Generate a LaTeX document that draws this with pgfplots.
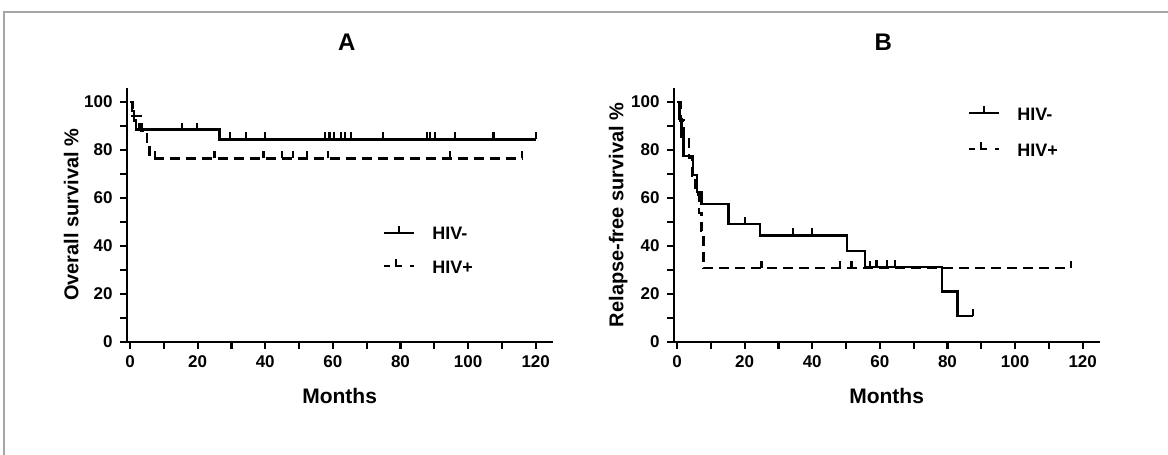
\documentclass[border=0pt]{standalone}
\usepackage{fontspec}
\setmainfont{Liberation Sans}
\usepackage{pgfplots}
\pgfplotsset{compat=1.18}

% censoring tick: short stroke pointing up
\pgfdeclareplotmark{cens}{%
  \pgfpathmoveto{\pgfpointorigin}%
  \pgfpathlineto{\pgfpoint{0pt}{\pgfplotmarksize}}%
  \pgfusepathqstroke}

\pgfplotsset{
  km/.style={
    scale only axis, width=213pt, height=127.2pt,
    xmin=-1, xmax=125, ymin=0, ymax=106,
    axis lines=left, axis line style={-, line width=1.1pt},
    tick align=outside, tick style={black, line width=1.1pt},
    major tick length=3.5pt, minor tick length=3.5pt,
    xtick={0,20,...,120}, ytick={0,20,...,100},
    minor xtick={10,30,...,110}, minor ytick={10,30,...,90},
    ticklabel style={font=\bfseries\fontsize{8.5}{10}\selectfont},
    /pgf/number format/assume math mode=true,
    xlabel={Months},
    x label style={at={(axis description cs:0.5,-0.212)}, anchor=center,
      font=\bfseries\fontsize{10.5}{12}\selectfont},
    y label style={at={(axis description cs:-0.13,0.5)}, anchor=center,
      font=\bfseries\fontsize{10}{12}\selectfont},
    title style={anchor=base, yshift=12.5pt, font=\bfseries\fontsize{12}{14}\selectfont},
    legend style={draw=none, fill=none, inner sep=0pt, outer sep=0pt,
      font=\bfseries\fontsize{9}{10}\selectfont, column sep=8.5pt,
      nodes={inner sep=0pt, text height=7pt, text depth=0pt}},
    legend cell align=left,
  },
  kmline/.style={const plot, black, line width=1.2pt, no markers, forget plot},
  kmcens/.style={only marks, mark=cens, mark size=3.5pt, forget plot,
    mark options={solid, black, line width=1.1pt}},
  negimg/.style={legend image code/.code={
    \draw[black, line width=1.2pt] (0pt,0pt) -- (15pt,0pt);
    \draw[black, line width=1.1pt] (7.5pt,0pt) -- (7.5pt,3.5pt);}},
  posimg/.style={legend image code/.code={
    \draw[black, line width=1.2pt] (0pt,0pt) -- (3pt,0pt);
    \draw[black, line width=1.2pt] (6pt,3.5pt) -- (6pt,0pt) -- (9pt,0pt);
    \draw[black, line width=1.2pt] (13pt,0pt) -- (15pt,0pt);}},
}

\begin{document}
\begin{tikzpicture}
\path[use as bounding box] (0,0) rectangle (584pt,227.5pt);
\draw[gray!70, line width=1.2pt] (2pt,0pt) -- (2pt,221.5pt) -- (584pt,221.5pt);

\begin{axis}[km, at={(63.3pt,56.5pt)}, anchor=south west,
  ylabel={Overall survival \%},
  title={A}, title style={at={(axis description cs:0.517,1)}},
  legend style={at={(axis description cs:0.602,0.366)}, anchor=west, row sep=9pt}]
% HIV- (solid)
\addplot[kmline] coordinates {(0,100) (0.6,96.2) (1.2,92.3) (1.8,88.5) (26.5,84.4) (120,84.4)};
\addplot[kmcens] coordinates {(2.7,88.5) (3.4,88.5) (15.3,88.5) (19.8,88.5)
  (29.6,84.4) (34.2,84.4) (40,84.4) (57.7,84.4) (59,84.4) (60.4,84.4) (62.3,84.4)
  (63.6,84.4) (65.4,84.4) (74.9,84.4) (87.8,84.4) (88.8,84.4) (90.1,84.4)
  (96.2,84.4) (107.5,84.4) (120,84.4)};
% HIV+ (dashed)
\addplot[kmline, dash pattern=on 5pt off 3pt] coordinates {(0,100) (0.8,94.1) (3.2,88.2) (5,82.4) (5.8,76.5) (116,76.5)};
\addplot[kmcens] coordinates {(7.4,76.5) (25,76.5) (39.5,76.5) (45,76.5) (48.3,76.5)
  (52.3,76.5) (58.5,76.5) (94.7,76.5) (116,76.5)};
\addlegendimage{negimg}\addlegendentry{HIV-}
\addlegendimage{posimg}\addlegendentry{HIV+}
\end{axis}

\begin{axis}[km, at={(336.8pt,56.5pt)}, anchor=south west,
  ylabel={Relapse-free survival \%},
  title={B}, title style={at={(axis description cs:0.492,1)}},
  legend style={at={(axis description cs:0.691,0.831)}, anchor=west, row sep=10.5pt}]
% HIV- (solid)
\addplot[kmline] coordinates {(0,100) (0.7,92.9) (1.3,85.7) (1.9,77.5) (4.8,69.5)
  (5.9,62.5) (7.3,57.6) (15.2,49.2) (24.6,44.4) (50.2,37.9) (55.6,31.3)
  (78.3,21.1) (83,10.8) (87.5,10.8)};
\addplot[kmcens] coordinates {(20,49.2) (34.4,44.4) (40,44.4) (59,31.3) (62,31.3)
  (64.5,31.3) (87.5,10.8)};
% HIV+ (dashed)
\addplot[kmline, dash pattern=on 5pt off 3pt] coordinates {(0,100) (1,92.3) (2,84.6)
  (3.5,76.9) (4.5,69.2) (5.5,61.5) (6.5,53.8) (7.2,46.2) (7.8,30.8) (116.5,30.8)};
\addplot[kmcens] coordinates {(25,30.8) (48.2,30.8) (51.6,30.8) (57,30.8) (116.5,30.8)};
\addlegendimage{negimg}\addlegendentry{HIV-}
\addlegendimage{posimg}\addlegendentry{HIV+}
\end{axis}
\end{tikzpicture}
\end{document}
